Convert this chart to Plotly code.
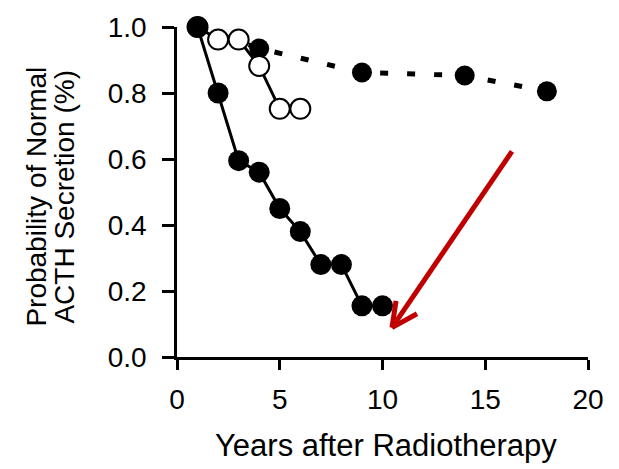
import plotly.graph_objects as go

# Data
years_a = [1, 2, 3, 4, 5, 6, 7, 8, 9, 10]
prob_a = [1.0, 0.80, 0.595, 0.56, 0.45, 0.38, 0.28, 0.28, 0.155, 0.155]

years_b = [1, 2, 3, 4, 5, 6]
prob_b = [1.0, 0.962, 0.962, 0.882, 0.752, 0.752]

years_c = [1, 4, 9, 14, 18]
prob_c = [1.0, 0.935, 0.862, 0.853, 0.805]

x_ticks = [0, 5, 10, 15, 20]
y_ticks = [0.0, 0.2, 0.4, 0.6, 0.8, 1.0]
y_tick_labels = ["0.0", "0.2", "0.4", "0.6", "0.8", "1.0"]

x_title = "Years after Radiotherapy"
y_title_lines = ["Probability of Normal", "ACTH Secretion (%)"]

# Red arrow (annotation, in data units)
arrow_tail = (16.3, 0.623)
arrow_tip = (10.46, 0.089)
arrow_arms = [(10.66, 0.17), (11.68, 0.131)]

FONT = "Liberation Sans, Arial, sans-serif"
RED = "#c00000"

fig = go.Figure()

fig.add_trace(go.Scatter(
    x=years_c, y=prob_c, mode="lines+markers",
    line=dict(color="black", width=5, dash="8px,19px"),
    marker=dict(size=20, color="black", line=dict(width=0)),
    cliponaxis=False, showlegend=False))

fig.add_trace(go.Scatter(
    x=years_b, y=prob_b, mode="lines+markers",
    line=dict(color="black", width=3),
    marker=dict(size=20, color="white", line=dict(color="black", width=2)),
    cliponaxis=False, showlegend=False))

fig.add_trace(go.Scatter(
    x=years_a, y=prob_a, mode="lines+markers",
    line=dict(color="black", width=3),
    marker=dict(size=21, color="black", line=dict(width=0)),
    cliponaxis=False, showlegend=False))

# arrow
fig.add_shape(type="line", x0=arrow_tail[0], y0=arrow_tail[1],
              x1=arrow_tip[0], y1=arrow_tip[1],
              line=dict(color=RED, width=5))
for ax_, ay_ in arrow_arms:
    fig.add_shape(type="line", x0=arrow_tip[0], y0=arrow_tip[1],
                  x1=ax_, y1=ay_, line=dict(color=RED, width=5))

fig.add_annotation(text=x_title, xref="paper", yref="paper",
                   x=0.509, y=-0.267, xanchor="center", yanchor="middle",
                   showarrow=False, font=dict(family=FONT, size=31, color="black"))
for i, line in enumerate(y_title_lines):
    fig.add_annotation(text=line, xref="paper", yref="paper",
                       x=0, y=0.486, xshift=-140 + 28 * i,
                       xanchor="center", yanchor="middle", textangle=-90,
                       showarrow=False, font=dict(family=FONT, size=28, color="black"))

fig.update_layout(
    width=619, height=469,
    margin=dict(l=177, r=31, t=20, b=112),
    paper_bgcolor="white", plot_bgcolor="white",
    font=dict(family=FONT, size=28, color="black"),
    xaxis=dict(range=[0, 20], tickvals=x_ticks, ticks="outside", ticklen=10,
               tickwidth=2.5, tickcolor="black", showline=True, linecolor="black",
               linewidth=2.5, showgrid=False, zeroline=False, fixedrange=True,
               ticklabelstandoff=6),
    yaxis=dict(range=[0, 1], tickvals=y_ticks, ticktext=y_tick_labels,
               ticks="outside", ticklen=12, tickwidth=2.5, tickcolor="black",
               showline=True, linecolor="black", linewidth=2.5, showgrid=False,
               zeroline=False, fixedrange=True, ticklabelstandoff=10),
)

fig.write_html("out.html")
